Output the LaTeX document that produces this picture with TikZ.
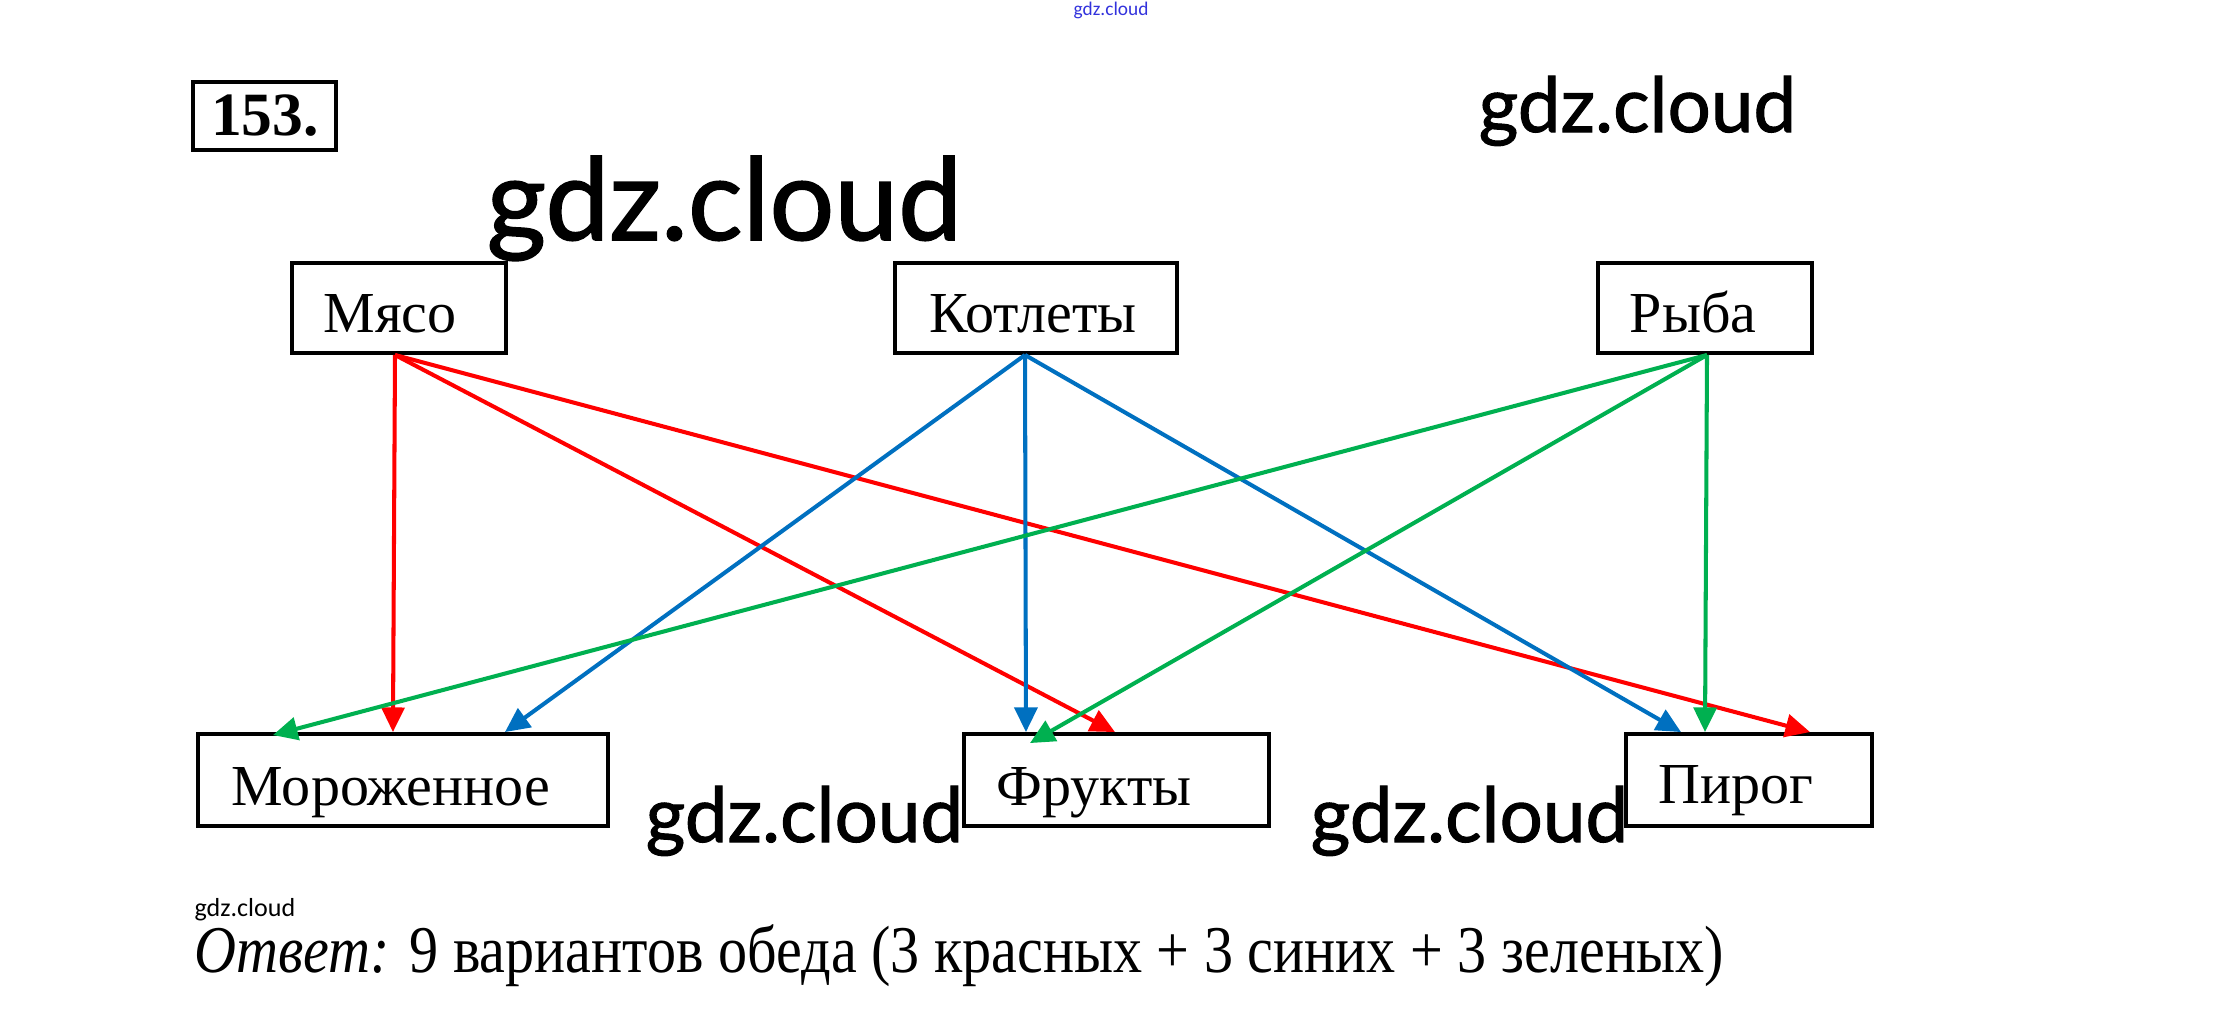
\documentclass[tikz,border=0pt]{standalone}
\usepackage{fontspec}
\setmainfont{Liberation Serif}
\newfontfamily\wmfont{Carlito}
\newfontfamily\wmbig{Lato}[FakeBold=1.3]
\usetikzlibrary{arrows.meta,calc}
\definecolor{cred}{RGB}{255,0,0}
\definecolor{cblue}{RGB}{0,112,192}
\definecolor{cgreen}{RGB}{0,176,80}
\definecolor{wmblue}{RGB}{50,50,220}
\tikzset{
  box/.style={draw=black,line width=1.1pt,fill=white,inner sep=0pt},
  lbl/.style={inner sep=0pt,anchor=base,font=\fontsize{16.5}{18}\selectfont},
  arr/.style={line width=1.15pt,-{Triangle[width=6.5pt,length=7pt]}},
  wm/.style={inner sep=0pt,anchor=base west},
}
\begin{document}
\begin{tikzpicture}[x=0.01cm,y=-0.01cm]
\useasboundingbox (0,0) rectangle (2222,1023);
% watermarks (behind)
\node[wm,text=wmblue,font=\wmfont\fontsize{5.5}{6}\selectfont] (wm0) at (1073,15) {gdz.cloud};
\node[wm,font=\wmbig\fontsize{32.5}{38}\selectfont] (wm1) at (486,240) {gdz.cloud};
\node[wm,font=\wmbig\fontsize{21.7}{25}\selectfont] (wm2) at (1478,132) {gdz.cloud};
\node[wm,font=\wmbig\fontsize{21.7}{25}\selectfont] (wm3) at (645,842) {gdz.cloud};
\node[wm,font=\wmbig\fontsize{21.7}{25}\selectfont] (wm4) at (1310,842) {gdz.cloud};
% number
\node[draw=black,line width=1.1pt,minimum width=1.43cm,minimum height=0.68cm,inner sep=0pt] (numb) at (264.5,116) {};
\node[inner sep=0pt,anchor=base,font=\bfseries\fontsize{17.5}{20}\selectfont] (numt) at (265,135) {153.};
% top boxes
\node[box,minimum width=2.14cm,minimum height=0.90cm] (mjaso) at (399,308) {};
\node[box,minimum width=2.82cm,minimum height=0.90cm] (kotl) at (1036,308) {};
\node[box,minimum width=2.14cm,minimum height=0.90cm] (ryba) at (1705,308) {};
\node[lbl] (mjasot) at (390,332) {Мясо};
\node[lbl] (kotlt) at (1033,332) {Котлеты};
\node[lbl] (rybat) at (1693,332) {Рыба};
% bottom boxes
\node[box,minimum width=4.10cm,minimum height=0.92cm] (moroz) at (403,780) {};
\node[box,minimum width=3.05cm,minimum height=0.92cm] (frukt) at (1116.5,780) {};
\node[box,minimum width=2.46cm,minimum height=0.92cm] (pirog) at (1749,780) {};
\node[lbl] (morozt) at (391,805) {Мороженное};
\node[lbl] (fruktt) at (1094,805) {Фрукты};
\node[lbl] (pirogt) at (1736,803) {Пирог};
% red
\draw[arr,cred] ($(mjaso.south)+(-4,0)$) -- ($(moroz.north west)+(197,0)$);
\draw[arr,cred] ($(mjaso.south)+(-4,0)$) -- ($(frukt.north west)+(153,0)$);
\draw[arr,cred] ($(mjaso.south)+(-4,0)$) -- ($(pirog.north west)+(186,0)$);
% blue
\draw[arr,cblue] ($(kotl.south)+(-11,0)$) -- ($(moroz.north west)+(309,0)$);
\draw[arr,cblue] ($(kotl.south)+(-11,0)$) -- ($(frukt.north west)+(64,0)$);
\draw[arr,cblue] ($(kotl.south)+(-11,0)$) -- ($(pirog.north west)+(57,0)$);
% green
\draw[arr,cgreen] ($(ryba.south)+(2,0)$) -- ($(moroz.north west)+(77,3)$);
\draw[arr,cgreen] ($(ryba.south)+(2,0)$) -- ($(frukt.north west)+(68,11)$);
\draw[arr,cgreen] ($(ryba.south)+(2,0)$) -- ($(pirog.north west)+(81,0)$);
% answer
\node[wm,font=\wmfont\fontsize{7.4}{8}\selectfont] (wm5) at (194,916) {gdz.cloud};
\node[wm,font=\fontsize{19}{21}\selectfont] (answer) at (194,972) {\scalebox{0.87}[1]{\textit{Ответ:} 9 вариантов обеда (3 красных + 3 синих + 3 зеленых)}};
\end{tikzpicture}
\end{document}
